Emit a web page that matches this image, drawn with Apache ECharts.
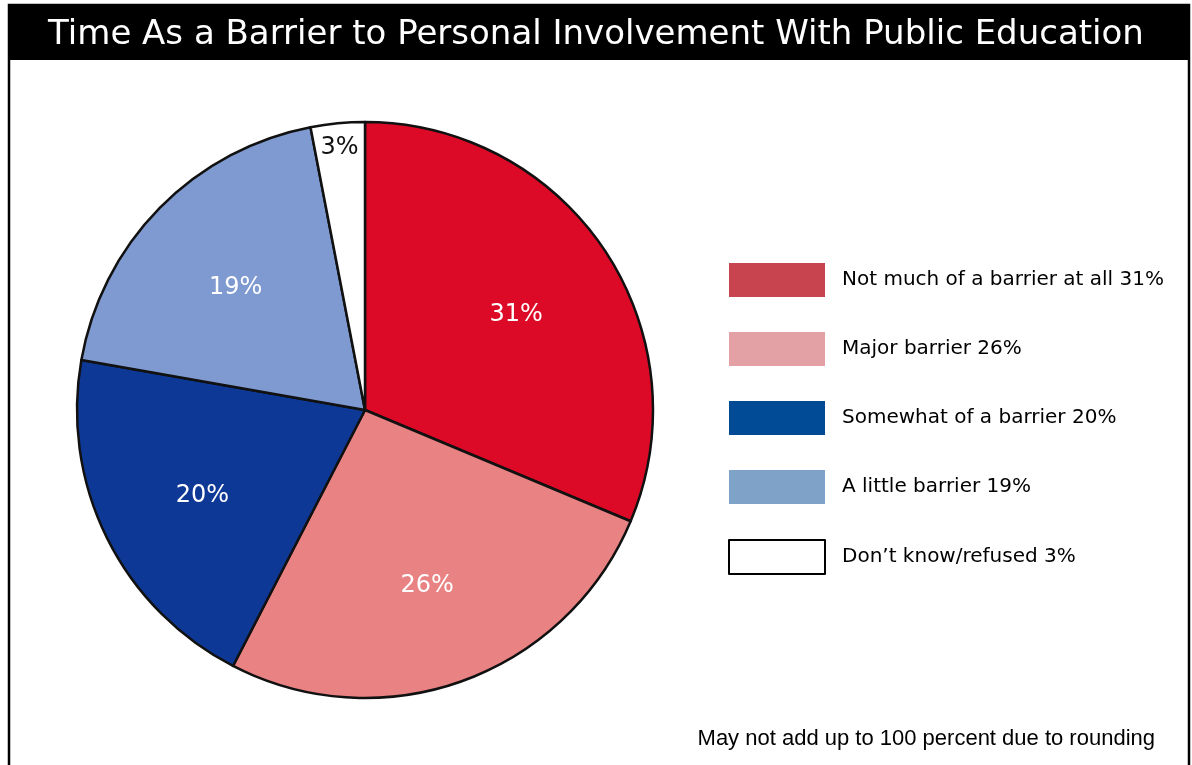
<!DOCTYPE html>
<html>
<head>
<meta charset="utf-8">
<title>Time As a Barrier to Personal Involvement With Public Education</title>
<script src="https://cdn.jsdelivr.net/npm/echarts@6/dist/echarts.min.js"></script>
<style>
  html, body { margin: 0; padding: 0; background: #ffffff; }
  #chart { width: 1192px; height: 765px; }
</style>
</head>
<body>
<div id="chart"></div>
<script>
// Survey answers, in clockwise order from 12 o'clock
const categories = [
  'Not much of a barrier at all',
  'Major barrier',
  'Somewhat of a barrier',
  'A little barrier',
  "Don\u2019t know/refused"
];
const percents = [31, 26, 20, 19, 3];

// Fill colours of the pie slices and of the legend swatches
const sliceColors = ['#dc0a26', '#e98282', '#0e3895', '#7f9ad0', '#ffffff'];
const swatchColors = ['#c8444f', '#e3a1a5', '#004a96', '#7fa3c8', '#ffffff'];

const titleText = 'Time As a Barrier to Personal Involvement With Public Education';
const noteText = 'May not add up to 100 percent due to rounding';

const chart = echarts.init(document.getElementById('chart'), null, { renderer: 'canvas' });

const PIE_CENTER = [365, 410];
const LABEL_CENTER = [365, 415];
const PIE_R = 288;

const sliceData = categories.map((name, i) => ({
  name: name,
  value: percents[i],
  itemStyle: { color: sliceColors[i] }
}));

// Value labels sit further out than the default half radius: they are drawn by
// invisible companion rings sharing the same angles.
const labelRing = (outer, showFn, color) => ({
  type: 'pie',
  silent: true,
  z: 3,
  center: LABEL_CENTER,
  radius: [0, outer],
  startAngle: 90,
  clockwise: true,
  avoidLabelOverlap: false,
  legendHoverLink: false,
  itemStyle: { color: 'rgba(0,0,0,0)', borderWidth: 0 },
  emphasis: { disabled: true },
  labelLine: { show: false },
  data: categories.map((name, i) => ({
    name: name,
    value: percents[i],
    label: {
      show: showFn(i),
      position: 'inside',
      formatter: '{c}%',
      color: color(i),
      fontFamily: 'DejaVu Sans',
      fontSize: 24
    }
  }))
});

const legendLabels = categories.map((name, i) => name + ' ' + percents[i] + '%');

chart.setOption({
  backgroundColor: '#ffffff',
  animation: false,
  graphic: [
    {
      type: 'rect',
      z: -1,
      shape: { x: 9, y: 5, width: 1180, height: 820 },
      style: { fill: '#ffffff', stroke: '#000000', lineWidth: 2.5 }
    },
    {
      type: 'rect',
      z: 0,
      shape: { x: 8, y: 5, width: 1182, height: 55 },
      style: { fill: '#000000' }
    }
  ],
  title: [
    {
      text: titleText,
      left: 'center',
      top: 13,
      textStyle: {
        color: '#ffffff',
        fontFamily: 'DejaVu Sans',
        fontWeight: 'normal',
        fontSize: 34
      }
    },
    {
      text: noteText,
      right: 32,
      top: 723,
      textStyle: {
        color: '#000000',
        fontFamily: 'Liberation Sans',
        fontWeight: 'normal',
        fontSize: 22
      }
    }
  ],
  legend: {
    orient: 'vertical',
    left: 728,
    top: 263,
    padding: 0,
    itemWidth: 96,
    itemHeight: 34,
    itemGap: 35,
    icon: 'rect',
    selectedMode: false,
    formatter: function (name) {
      return legendLabels[categories.indexOf(name)];
    },
    textStyle: {
      color: '#000000',
      fontFamily: 'DejaVu Sans',
      fontSize: 20,
      padding: [0, 0, 0, 12]
    },
    data: categories.map((name, i) => ({
      name: name,
      itemStyle: i === 4
        ? { color: '#ffffff', borderColor: '#000000', borderWidth: 2 }
        : { color: swatchColors[i], borderWidth: 0 }
    }))
  },
  series: [
    {
      type: 'pie',
      z: 2,
      center: PIE_CENTER,
      radius: [0, PIE_R],
      startAngle: 90,
      clockwise: true,
      silent: true,
      label: { show: false },
      labelLine: { show: false },
      itemStyle: { borderColor: '#111111', borderWidth: 2.5 },
      emphasis: { disabled: true },
      data: sliceData
    },
    labelRing(PIE_R * 1.24, i => i < 4, () => '#ffffff'),
    labelRing(PIE_R * 1.84, i => i === 4, () => '#111111')
  ]
});
</script>
</body>
</html>
